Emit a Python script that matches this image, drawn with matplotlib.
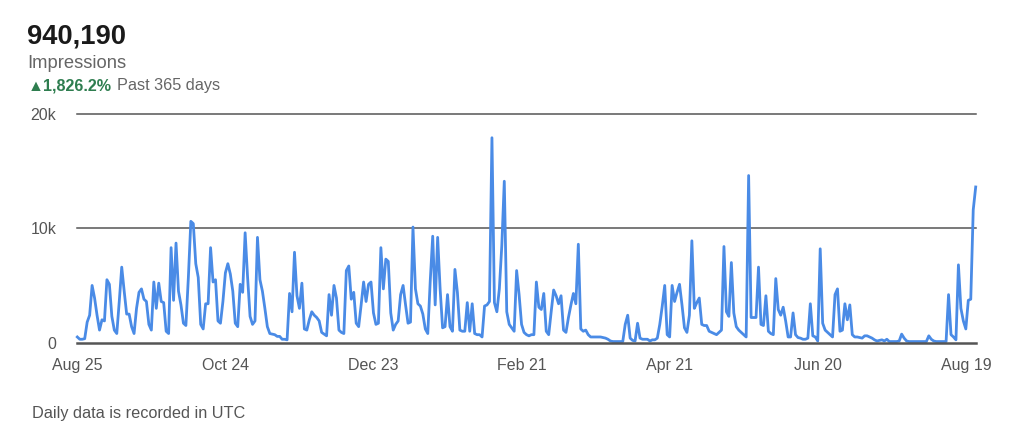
import numpy as np
import pandas as pd
import matplotlib
matplotlib.use('Agg')
import matplotlib.pyplot as plt

plt.rcParams['font.family'] = ['Liberation Sans', 'DejaVu Sans']

# daily impressions (thousands), Aug 25 -> Aug 23
impressions_k = [
    0.5, 0.3, 0.3, 0.35, 1.8, 2.4, 5.0, 3.9, 2.4, 1.1,
    2.0, 1.9, 5.5, 5.1, 2.3, 1.1, 0.8, 3.6, 6.6, 4.5,
    2.5, 2.5, 1.4, 0.8, 3.0, 4.4, 4.7, 3.8, 3.6, 1.6,
    1.1, 5.3, 3.0, 5.2, 3.6, 3.5, 1.0, 0.8, 8.3, 3.7,
    8.7, 4.5, 3.3, 1.7, 1.5, 5.7, 10.6, 10.4, 6.9, 5.7,
    1.6, 1.2, 3.4, 3.4, 8.3, 5.3, 5.5, 1.9, 1.7, 3.6,
    6.1, 6.9, 6.0, 4.5, 1.7, 1.4, 5.1, 4.4, 9.6, 5.7,
    2.3, 1.6, 1.9, 9.2, 5.5, 4.5, 3.0, 1.4, 0.8, 0.75,
    0.7, 0.55, 0.55, 0.3, 0.3, 0.25, 4.3, 2.7, 7.9, 4.1,
    3.0, 5.2, 1.2, 1.1, 2.0, 2.7, 2.4, 2.2, 1.9, 0.9,
    0.75, 0.6, 4.2, 2.4, 5.0, 3.9, 1.1, 0.9, 0.8, 6.3,
    6.7, 3.8, 4.4, 1.7, 1.4, 3.3, 5.3, 3.6, 5.1, 5.3,
    2.6, 1.6, 1.7, 8.3, 4.7, 7.3, 7.1, 2.6, 1.1, 1.6,
    1.9, 4.2, 5.0, 3.3, 1.7, 1.8, 10.1, 4.7, 3.4, 3.2,
    2.5, 1.2, 0.8, 5.4, 9.3, 3.3, 9.2, 4.7, 1.3, 1.4,
    4.2, 1.4, 1.0, 6.4, 4.4, 1.1, 1.0, 1.0, 3.5, 1.0,
    3.4, 0.8, 0.7, 0.7, 0.5, 3.2, 3.3, 3.6, 17.9, 3.5,
    2.7, 4.7, 8.5, 14.1, 2.7, 1.6, 1.3, 1.0, 6.3, 4.2,
    1.6, 0.9, 0.7, 0.6, 0.7, 0.7, 5.3, 3.1, 2.9, 4.3,
    1.0, 0.7, 2.7, 4.6, 4.1, 3.4, 4.1, 1.1, 0.9, 2.2,
    3.3, 4.3, 3.4, 8.6, 1.2, 1.0, 1.1, 0.7, 0.5, 0.5,
    0.5, 0.5, 0.5, 0.45, 0.4, 0.3, 0.15, 0.1, 0.1, 0.1,
    0.1, 0.1, 1.6, 2.4, 0.4, 0.2, 0.15, 1.7, 0.4, 0.3,
    0.3, 0.3, 0.15, 0.25, 0.25, 0.4, 1.6, 3.2, 5.0, 0.7,
    0.5, 5.0, 3.6, 4.4, 5.1, 3.3, 1.3, 0.9, 2.4, 8.9,
    3.0, 3.5, 3.9, 1.6, 1.5, 1.5, 1.0, 0.9, 0.8, 0.7,
    0.9, 1.1, 8.4, 2.7, 2.3, 7.0, 2.6, 1.4, 1.1, 0.9,
    0.7, 0.5, 14.6, 2.2, 2.2, 2.2, 6.6, 1.6, 1.5, 4.1,
    1.0, 0.8, 0.7, 5.6, 2.9, 2.4, 3.1, 1.9, 0.5, 0.5,
    2.6, 0.7, 0.45, 0.4, 0.3, 0.3, 0.4, 3.4, 0.6, 0.5,
    0.15, 8.2, 1.7, 1.1, 0.9, 0.7, 0.5, 4.2, 4.7, 1.0,
    1.1, 3.4, 2.0, 3.3, 0.7, 0.5, 0.5, 0.45, 0.4, 0.6,
    0.6, 0.5, 0.4, 0.25, 0.15, 0.2, 0.25, 0.15, 0.3, 0.1,
    0.1, 0.1, 0.1, 0.15, 0.75, 0.4, 0.15, 0.1, 0.1, 0.1,
    0.1, 0.1, 0.1, 0.1, 0.1, 0.6, 0.3, 0.15, 0.1, 0.1,
    0.1, 0.1, 0.1, 4.2, 0.7, 0.5, 0.25, 6.8, 3.0, 1.9,
    1.2, 3.7, 3.8, 11.6, 13.6,
]
start_date = '2023-08-25'
x_tick_labels = ['Aug 25', 'Oct 24', 'Dec 23', 'Feb 21', 'Apr 21', 'Jun 20', 'Aug 19']
y_ticks = [0, 10000, 20000]
y_tick_labels = ['0', '10k', '20k']

total = '940,190'
metric = 'Impressions'
change = '\u25b21,826.2%'
period = 'Past 365 days'
footnote = 'Daily data is recorded in UTC'

dates = pd.date_range(start_date, periods=len(impressions_k), freq='D')
values = np.array(impressions_k) * 1000

W, H = 1024, 448
fig = plt.figure(figsize=(W / 100, H / 100), dpi=100)
ax = fig.add_axes([77.3 / W, 1 - 342.7 / H, 898.4 / W, 229 / H])

ax.plot(dates, values, color='#4a8be6', lw=2.0, solid_joinstyle='round', clip_on=False, zorder=3)

ax.set_xlim(dates[0], dates[-1])
ax.set_ylim(0, 20000)

tick_dates = [dates[0] + pd.Timedelta(days=60 * i) for i in range(len(x_tick_labels))]
ax.set_xticks(tick_dates)
ax.set_xticklabels(x_tick_labels, fontsize=11.5, color='#555555')
ax.set_yticks(y_ticks)
ax.set_yticklabels(y_tick_labels, fontsize=11.5, color='#555555')
ax.tick_params(length=0)
ax.tick_params(axis='x', pad=11)
ax.tick_params(axis='y', pad=15)

for s in ['top', 'right', 'left']:
    ax.spines[s].set_visible(False)
ax.spines['bottom'].set_color('#555555')
ax.spines['bottom'].set_linewidth(1.8)
ax.spines['bottom'].set_zorder(4)

for yv in y_ticks[1:]:
    ax.axhline(yv, color='#555555', lw=1.1, zorder=1, clip_on=False)


def px(x, y):
    return x / W, 1 - y / H


fig.text(*px(27, 43), total, fontsize=19.7, fontweight='bold', color='#1a1a1a', va='baseline')
fig.text(*px(27, 67.7), metric, fontsize=13.2, color='#666666', va='baseline')
fig.text(*px(27.5, 90), change, fontsize=11.6, fontweight='bold', color='#2e7d4f', va='baseline')
fig.text(*px(117, 90), period, fontsize=11.7, color='#666666', va='baseline')
fig.text(*px(32, 418), footnote, fontsize=11.7, color='#555555', va='baseline')

fig.savefig('out.png', dpi=100, facecolor='white')
